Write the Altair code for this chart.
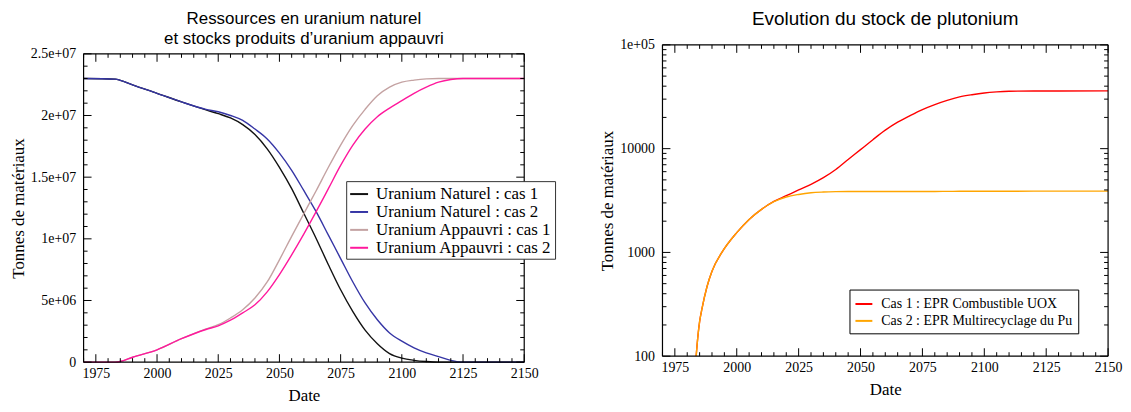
import altair as alt
import pandas as pd

SERIF = "Liberation Serif"
SANS = "Liberation Sans"

# ---------------- left panel data (tonnes) ----------------
years_u = [1970, 1983, 1985, 1990, 2000, 2010, 2020, 2025, 2030, 2035, 2040, 2045, 2050,
           2055, 2060, 2065, 2070, 2075, 2080, 2085, 2090, 2095, 2100, 2105, 2110, 2115,
           2120, 2125, 2150]
nat_cas1 = [23.0, 22.95, 22.85, 22.48, 21.8, 21.1, 20.45, 20.15, 19.8, 19.26, 18.46, 17.3, 15.8,
            14.07, 12.05, 10.03, 7.9, 5.87, 4.1, 2.6, 1.5, 0.7, 0.33, 0.15, 0.05, 0.0,
            0.0, 0.0, 0.0]
nat_cas2 = [23.0, 22.95, 22.85, 22.48, 21.8, 21.1, 20.5, 20.3, 20.0, 19.6, 18.9, 18.1, 16.95,
            15.55, 13.9, 12.2, 10.3, 8.4, 6.5, 4.8, 3.44, 2.37, 1.7, 1.16, 0.75, 0.45,
            0.15, 0.0, 0.0]
app_cas1 = [0.0, 0.0, 0.05, 0.4, 1.0, 1.9, 2.7, 3.04, 3.58, 4.25, 5.2, 6.5, 8.3,
            10.2, 12.05, 13.9, 15.8, 17.6, 19.2, 20.5, 21.6, 22.3, 22.7, 22.87, 22.97, 23.0,
            23.0, 23.0, 23.0]
app_cas2 = [0.0, 0.0, 0.05, 0.4, 1.0, 1.9, 2.65, 2.95, 3.4, 4.0, 4.65, 5.7, 7.1,
            8.7, 10.4, 12.2, 14.07, 15.95, 17.6, 18.9, 19.9, 20.6, 21.2, 21.8, 22.3, 22.7,
            22.92, 23.0, 23.0]
series_u = ["Uranium Naturel : cas 1", "Uranium Naturel : cas 2",
            "Uranium Appauvri : cas 1", "Uranium Appauvri : cas 2"]
colors_u = ["#111111", "#3535a5", "#c4a2a2", "#ff189c"]

# ---------------- right panel data (tonnes) ----------------
years_pu = [1983.6, 1984, 1985, 1986, 1988, 1990, 1994, 2000, 2005, 2010, 2015, 2020, 2025,
            2030, 2035, 2040, 2045, 2050, 2055, 2060, 2065, 2070, 2075, 2080, 2085, 2090,
            2095, 2100, 2105, 2110, 2120, 2150]
pu_cas1 = [100, 130, 215, 290, 470, 660, 1000, 1550, 2080, 2600, 3100, 3520, 4000,
           4530, 5250, 6300, 7870, 9780, 12200, 15060, 17980, 20800, 23800, 26600, 29200, 31500,
           33100, 34400, 35200, 35700, 35950, 36000]
pu_cas2 = [100, 130, 215, 290, 470, 660, 1000, 1550, 2080, 2600, 3080, 3420, 3620,
           3760, 3820, 3850, 3860, 3860, 3860, 3860, 3860, 3865, 3870, 3870, 3875, 3880,
           3880, 3885, 3890, 3890, 3895, 3900]
series_pu = ["Cas 1 : EPR Combustible UOX", "Cas 2 : EPR Multirecyclage du Pu"]
colors_pu = ["#ff0000", "#ffa500"]

# ---------------- ticks ----------------
x_major = [1975, 2000, 2025, 2050, 2075, 2100, 2125, 2150]
x_minor = [y for y in range(1970, 2150, 5) if y not in x_major]
yl_major = [0, 5e6, 1e7, 1.5e7, 2e7, 2.5e7]
yl_major_labels = ["0", "5e+06", "1e+07", "1.5e+07", "2e+07", "2.5e+07"]
yl_minor = [v * 1e6 for v in range(1, 25) if v % 5 != 0]
yr_major = [100, 1000, 10000, 100000]
yr_major_labels = ["100", "1000", "10000", "1e+05"]
yr_minor = [m * d for d in (100, 1000, 10000) for m in range(2, 10)]

rows = []
for name, vals in zip(series_u, [nat_cas1, nat_cas2, app_cas1, app_cas2]):
    for yr, v in zip(years_u, vals):
        rows.append({"x": yr, "y": v * 1e6, "s": name})
df_u = pd.DataFrame(rows)
rows = []
for name, vals in zip(series_pu, [pu_cas1, pu_cas2]):
    for yr, v in zip(years_pu, vals):
        rows.append({"x": yr, "y": v, "s": name})
df_pu = pd.DataFrame(rows)
one = pd.DataFrame({"k": [0]})


def label_expr(values, labels):
    expr = "''"
    for v, l in zip(values, labels):
        expr = f"abs(datum.value - {v}) < {max(v, 1) * 1e-6} ? '{l}' : " + expr
    return expr


def x_axis():
    return alt.Axis(values=x_major, format="d", tickSize=0, ticks=False, domain=False,
                    grid=False, labelFont=SERIF, labelFontSize=14, labelColor="black",
                    labelPadding=4, labelFlush=False, labelOverlap=False,
                    title="Date", titleFont=SERIF, titleFontSize=17,
                    titleFontWeight="normal", titleColor="black", titlePadding=8)


def y_axis(values, labels):
    return alt.Axis(values=values, labelExpr=label_expr(values, labels), tickSize=0,
                    ticks=False, domain=False, grid=False, labelFont=SERIF,
                    labelFontSize=14, labelColor="black", labelPadding=8,
                    labelFlush=False, labelOverlap=False,
                    title="Tonnes de matériaux", titleFont=SERIF, titleFontSize=17,
                    titleFontWeight="normal", titleColor="black", titlePadding=3)


def ticks(x_scale, y_scale, xax, yax, W, top, bottom, ymaj, ymin):
    layers = []
    for vals, L in ((x_major, 8), (x_minor, 4)):
        d = pd.DataFrame({"x": vals})
        xe = alt.X("x:Q", scale=x_scale, axis=xax)
        layers.append(alt.Chart(d).mark_rule(color="black", strokeWidth=1).encode(
            x=xe, y=alt.value(bottom), y2=alt.value(bottom - L)))
        layers.append(alt.Chart(d).mark_rule(color="black", strokeWidth=1).encode(
            x=xe, y=alt.value(top), y2=alt.value(top + L)))
    for vals, L in ((ymaj, 8), (ymin, 4)):
        d = pd.DataFrame({"y": vals})
        ye = alt.Y("y:Q", scale=y_scale, axis=yax)
        layers.append(alt.Chart(d).mark_rule(color="black", strokeWidth=1).encode(
            y=ye, x=alt.value(0), x2=alt.value(L)))
        layers.append(alt.Chart(d).mark_rule(color="black", strokeWidth=1).encode(
            y=ye, x=alt.value(W), x2=alt.value(W - L)))
    return layers


def frame(W, top, bottom):
    r = lambda **kw: alt.Chart(one).mark_rule(color="black", strokeWidth=1.2).encode(**kw)
    return [
        r(x=alt.value(0), x2=alt.value(W), y=alt.value(top)),
        r(x=alt.value(0), x2=alt.value(W), y=alt.value(bottom)),
        r(x=alt.value(0), y=alt.value(top), y2=alt.value(bottom)),
        r(x=alt.value(W), y=alt.value(top), y2=alt.value(bottom)),
    ]


# ---------------- left panel (frame drawn 9px below the cell top) ----------------
WL, HL, TOPL = 443, 319, 9
xs_l = alt.Scale(domain=[1970, 2150], nice=False, zero=False)
ys_l = alt.Scale(domain=[0, 2.5e7], range=[HL, TOPL], nice=False)
xax_l = x_axis()
yax_l = y_axis(yl_major, yl_major_labels)
lines_l = alt.Chart(df_u).mark_line(strokeWidth=1.4, interpolate="monotone").encode(
    x=alt.X("x:Q", scale=xs_l, axis=xax_l),
    y=alt.Y("y:Q", scale=ys_l, axis=yax_l),
    color=alt.Color("s:N", scale=alt.Scale(domain=series_u, range=colors_u),
                    legend=alt.Legend(title=None, orient="none", legendX=264, legendY=137,
                                      symbolType="stroke", symbolSize=324,
                                      symbolStrokeWidth=2, labelFont=SERIF,
                                      labelFontSize=17, labelColor="black", labelLimit=400,
                                      strokeColor="#333333", fillColor="white",
                                      padding=3, rowPadding=0, labelOffset=7)),
    detail="s:N",
)
left = alt.layer(lines_l, *ticks(xs_l, ys_l, xax_l, yax_l, WL, TOPL, HL, yl_major, yl_minor),
                 *frame(WL, TOPL, HL)).properties(
    width=WL, height=HL,
    view=alt.ViewBackground(stroke="transparent"),
    title=alt.Title(["Ressources en uranium naturel", "et stocks produits d’uranium appauvri"],
                    font=SANS, fontSize=17, fontWeight="normal", color="black",
                    lineHeight=20, offset=-3, anchor="middle", frame="group"),
)

# ---------------- right panel ----------------
WR, HR = 448, 313
xs_r = alt.Scale(domain=[1970, 2150], nice=False, zero=False)
ys_r = alt.Scale(type="log", domain=[100, 100000], nice=False)
xax_r = x_axis()
yax_r = y_axis(yr_major, yr_major_labels)
lines_r = alt.Chart(df_pu).mark_line(strokeWidth=1.4, interpolate="monotone", clip=True).encode(
    x=alt.X("x:Q", scale=xs_r, axis=xax_r),
    y=alt.Y("y:Q", scale=ys_r, axis=yax_r),
    color=alt.Color("s:N", scale=alt.Scale(domain=series_pu, range=colors_pu),
                    legend=alt.Legend(title=None, orient="none", legendX=188, legendY=246,
                                      symbolType="stroke", symbolSize=289,
                                      symbolStrokeWidth=2, labelFont=SERIF,
                                      labelFontSize=14, labelColor="black", labelLimit=400,
                                      strokeColor="black", fillColor="white",
                                      padding=5, rowPadding=0, labelOffset=8)),
    detail="s:N",
)
right = alt.layer(lines_r, *ticks(xs_r, ys_r, xax_r, yax_r, WR, 0, HR, yr_major, yr_minor),
                  *frame(WR, 0, HR)).properties(
    width=WR, height=HR,
    view=alt.ViewBackground(stroke="transparent"),
    title=alt.Title("Evolution du stock de plutonium", font=SANS, fontSize=19,
                    fontWeight="normal", color="black", offset=9, anchor="middle",
                    frame="group"),
)

chart = alt.hconcat(left, right, spacing=42).resolve_scale(
    color="independent"
).properties(padding=0).configure_view(
    stroke="transparent"
).configure(background="white")

chart.save("out.html", embed_options={"renderer": "svg", "actions": False})
